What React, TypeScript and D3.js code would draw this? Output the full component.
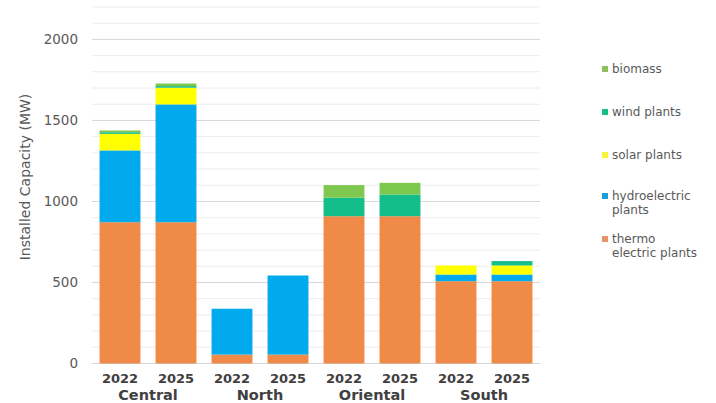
import React from "react";
import * as d3 from "d3";

const regions = ["Central", "North", "Oriental", "South"];
const years = ["2022", "2025"];

// MW per bar, ordered region by region, 2022 then 2025
const thermo = [872, 872, 55, 55, 909, 909, 508, 508];
const hydro = [443, 727, 283, 488, 0, 0, 41, 41];
const solar = [102, 103, 0, 0, 0, 0, 56, 56];
const wind = [10, 10, 0, 0, 114, 134, 0, 27];
const biomass = [11, 16, 0, 0, 78, 72, 0, 0];

const seriesNames = ["thermo electric plants", "hydroelectric plants", "solar plants", "wind plants", "biomass"];
const seriesColors = ["#F08A49", "#00AAEC", "#FFFF00", "#14BE8A", "#7EC850"];
const legendLines = [["biomass"], ["wind plants"], ["solar plants"], ["hydroelectric", "plants"], ["thermo", "electric plants"]];
const legendColors = ["#8DBE5C", "#14BE8A", "#F4F43C", "#1A9FD8", "#E8926A"];

const yTicks = [0, 500, 1000, 1500, 2000];

const W = 716;
const H = 403;

export default function App() {
  const values = [thermo, hydro, solar, wind, biomass];
  const barKeys = regions.flatMap((r) => years.map((y) => `${r}-${y}`));
  const rows = barKeys.map((k, i) => {
    const row: Record<string, number | string> = { key: k };
    seriesNames.forEach((s, j) => (row[s] = values[j][i]));
    return row;
  });
  const stacked = d3.stack<any>().keys(seriesNames)(rows);

  const x = d3.scaleBand().domain(barKeys).range([92, 540]).paddingInner(0.27).paddingOuter(0.135);
  const y = d3.scaleLinear().domain([0, 2200]).range([363.5, 7]);

  const minor = d3.range(0, 2201, 100);
  const font = "'DejaVu Sans', Verdana, sans-serif";

  return (
    <svg width={W} height={H} style={{ position: "absolute", left: 0, top: 0, background: "#fff" }} fontFamily={font}>
      {minor.map((v) => (
        <line
          key={v}
          x1={92}
          x2={540}
          y1={y(v)}
          y2={y(v)}
          stroke={v % 500 === 0 ? "#D6D6D6" : "#ECECEC"}
          strokeWidth={1}
        />
      ))}
      {yTicks.map((v) => (
        <text key={v} x={78} y={y(v)} dy="0.35em" textAnchor="end" fontSize={13.5} fill="#595959">
          {v}
        </text>
      ))}
      <text
        transform={`translate(25,${177}) rotate(-90)`}
        textAnchor="middle"
        dy="0.35em"
        fontSize={14}
        fill="#595959"
      >
        Installed Capacity (MW)
      </text>

      {stacked.map((layer, j) => (
        <g key={layer.key} fill={seriesColors[j]}>
          {layer.map((d, i) =>
            d[1] - d[0] > 0 ? (
              <rect
                key={i}
                x={x(barKeys[i])}
                width={x.bandwidth()}
                y={y(d[1])}
                height={y(d[0]) - y(d[1])}
              />
            ) : null
          )}
        </g>
      ))}

      {barKeys.map((k, i) => (
        <text
          key={k}
          x={(x(k) ?? 0) + x.bandwidth() / 2}
          y={383}
          textAnchor="middle"
          fontSize={13}
          fontWeight="bold"
          fill="#404040"
        >
          {years[i % 2]}
        </text>
      ))}
      {regions.map((r, i) => {
        const a = (x(barKeys[i * 2]) ?? 0) + x.bandwidth() / 2;
        const b = (x(barKeys[i * 2 + 1]) ?? 0) + x.bandwidth() / 2;
        return (
          <text key={r} x={(a + b) / 2} y={400} textAnchor="middle" fontSize={14.5} fontWeight="bold" fill="#404040">
            {r}
          </text>
        );
      })}

      {legendLines.map((lines, i) => {
        const ly = [69, 112, 155, 196, 239][i];
        return (
          <g key={i}>
            <rect x={602} y={ly - 3} width={6} height={6} fill={legendColors[i]} />
            {lines.map((t, k) => (
              <text key={k} x={612} y={ly + k * 14} dy="0.35em" fontSize={12} fill="#595959">
                {t}
              </text>
            ))}
          </g>
        );
      })}
    </svg>
  );
}
